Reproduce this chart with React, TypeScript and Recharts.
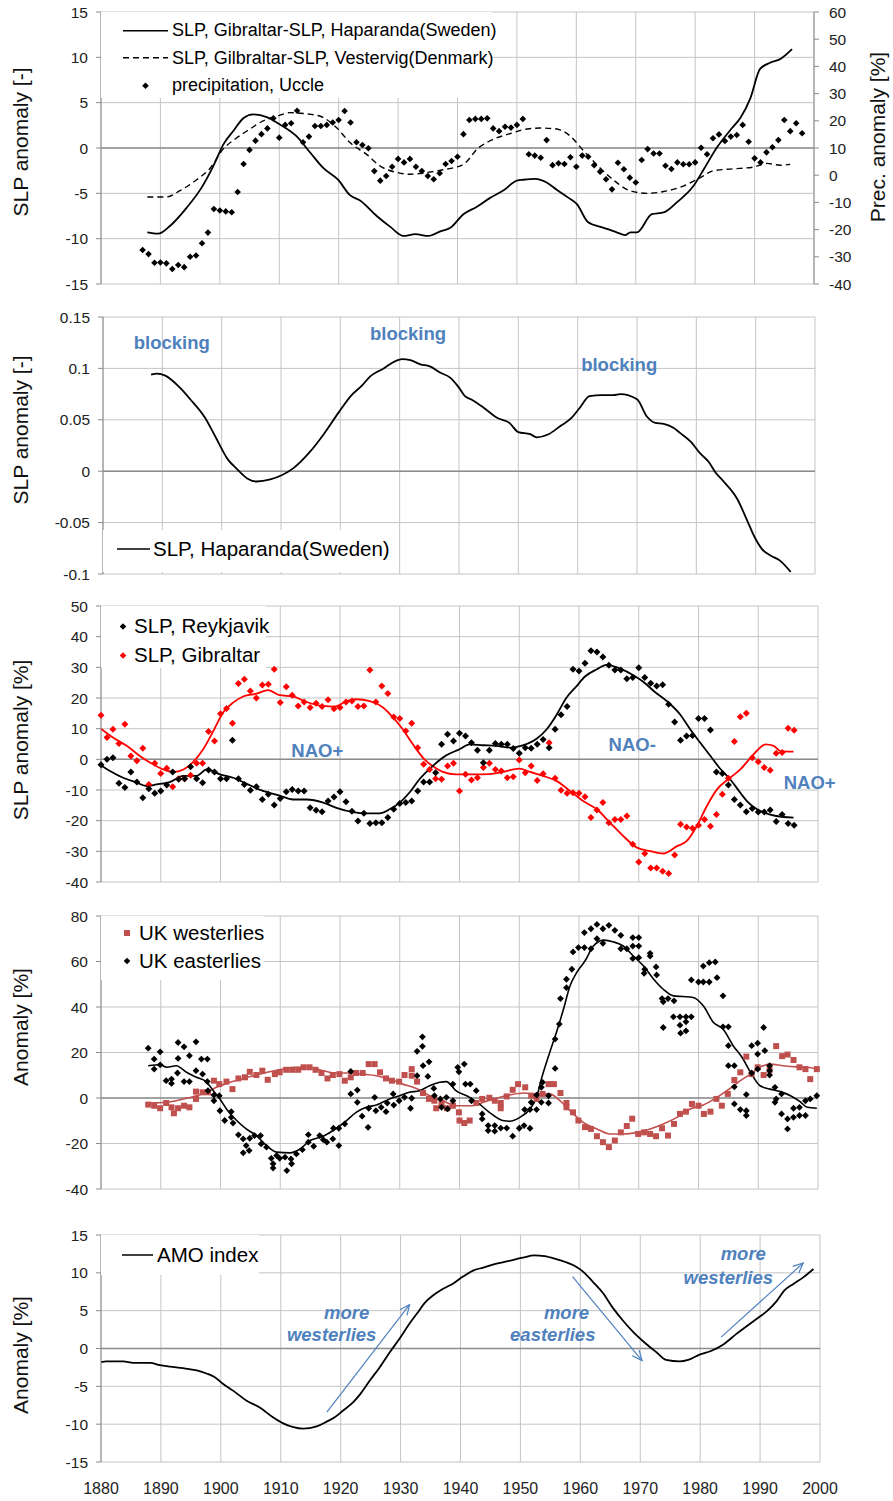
import React from 'react';
import {
  ComposedChart, Line, Scatter, XAxis, YAxis, CartesianGrid,
  ReferenceLine, ReferenceDot, Legend,
} from 'recharts';

type Pt = [number, number];

const yearTicks = [1880, 1890, 1900, 1910, 1920, 1930, 1940, 1950, 1960, 1970, 1980, 1990, 2000];

// ---- panel 1: SLP differences + Uccle precipitation
const p1LeftTicks = [-15, -10, -5, 0, 5, 10, 15];
const p1RightTicks = [-40, -30, -20, -10, 0, 10, 20, 30, 40, 50, 60];
const slpGibHaparanda: Pt[] = [
  [1887.8, -9.3], [1889.6, -9.45], [1891.6, -8.6], [1894.4, -6.6], [1896.9, -4.4], [1898.9, -2.0],
  [1900.6, 0.4], [1902.3, 1.9], [1904, 3.3], [1905.6, 3.7], [1907.9, 3.4], [1910.1, 2.6], [1912.9, 1.3],
  [1915.2, -0.5], [1917.4, -2.2], [1919.9, -3.5], [1921.9, -5.2], [1923.6, -5.8], [1926.4, -7.5],
  [1928.7, -8.7], [1930.9, -9.7], [1932.9, -9.5], [1935.1, -9.7], [1937.1, -9.2], [1938.8, -8.8],
  [1941, -7.3], [1943.2, -6.5], [1945.5, -5.5], [1947.7, -4.7], [1950, -3.6], [1951.1, -3.5],
  [1953.1, -3.4], [1955, -3.8], [1956.7, -4.6], [1958.7, -5.5], [1960.1, -6.2], [1962, -8.2],
  [1964.6, -8.8], [1966.8, -9.3], [1968.2, -9.6], [1969.1, -9.3], [1970.2, -9.3], [1972.7, -7.3],
  [1974.7, -7.1], [1976.9, -6.0], [1979.7, -4.2], [1981.4, -2.4], [1983.6, 0.0], [1986.2, 2.2],
  [1987.6, 3.3], [1989.3, 5.5], [1990.9, 8.7], [1992.6, 9.4], [1994.3, 9.8], [1996.3, 10.9],
];
const slpGibVestervig: Pt[] = [
  [1887.8, -5.4], [1891, -5.4], [1893.3, -4.7], [1896.1, -3.5], [1898.4, -2.2], [1900.6, -0.1],
  [1902.8, 1.1], [1905.1, 2.1], [1907.3, 3.0], [1909.6, 3.5], [1911.8, 3.9], [1914.1, 3.8],
  [1916.9, 3.5], [1919.7, 2.2], [1921.9, 0.6], [1924.7, -0.7], [1927, -2.0], [1929.8, -2.7],
  [1932, -2.9], [1934.8, -2.7], [1937.6, -2.4], [1941, -1.8], [1943.5, 0], [1945.5, 0.8],
  [1948.9, 1.6], [1951.7, 2.1], [1953.9, 2.2], [1956.7, 2.1], [1959, 1.3], [1961.2, -0.3],
  [1964, -2.2], [1966.2, -3.5], [1969, -4.7], [1971.9, -5.0], [1974.7, -4.8], [1978, -4.2],
  [1980.8, -3.3], [1983.1, -2.5], [1986.4, -2.3], [1989.8, -2.1], [1992.1, -1.7], [1994.3, -1.9],
  [1996, -1.8],
];
const precStart = 1887;
const precUccle = [
  -27.5, -29, -32.2, -32.1, -32.4, -34.5, -33, -33.8, -30, -29.5,
  -25, -21.1, -12.4, -13, -13.3, -13.6, -6.2, 4.1, 9.3, 12.7,
  15.1, 17.2, 20.9, 13.8, 18.5, 19.1, 23.7, 12.1, 14.2, 18.1,
  18.1, 18.5, 19.4, 20.3, 23.6, 19.4, 12.1, 11.1, 9.9, 1.5,
  -2, -0.3, 3.1, 6, 4.7, 6, 3.1, 1.5, -0.3, -1.5,
  0.7, 4.1, 5.2, 6.8, 15.1, 20.3, 20.7, 20.7, 20.9, 17.2,
  16.2, 17.8, 17.5, 18.5, 20.7, 7.7, 7.2, 6.4, 12.9, 3.7,
  4.4, 4.1, 6.6, 3.1, 7.2, 6.8, 3.7, 1.3, -1.5, -5.2,
  4.6, 2.2, -0.9, -2.7, 5.6, 9.6, 8, 8, 3.5, 2.3,
  4.7, 4, 4, 4.7, 10.1, 7.7, 13.6, 15, 12.6, 14.2,
  14.8, 18.5, 12.3, 6.2, 4.7, 8.4, 10.3, 12.9, 20.3, 16.2,
  19.1, 15.4,
];

// ---- panel 2: Haparanda SLP
const p2Ticks = [-0.1, -0.05, 0, 0.05, 0.1, 0.15];
const slpHaparanda: Pt[] = [
  [1888.1, 0.094], [1889.1, 0.095], [1890.5, 0.093], [1893, 0.081], [1894.7, 0.07], [1897.2, 0.052],
  [1898.9, 0.034], [1901.1, 0.011], [1902.6, 0.002], [1904.3, -0.007], [1905.9, -0.01], [1908.2, -0.008],
  [1910.1, -0.004], [1912.1, 0.003], [1914.9, 0.019], [1917.2, 0.036], [1919.7, 0.057], [1921.9, 0.074],
  [1923.6, 0.083], [1925, 0.092], [1927.3, 0.1], [1928.9, 0.106], [1930.4, 0.109], [1931.8, 0.108],
  [1933.5, 0.104], [1935.1, 0.102], [1936.8, 0.096], [1938.5, 0.091], [1939.9, 0.082], [1941, 0.073],
  [1942, 0.07], [1944.1, 0.062], [1946.4, 0.052], [1948.5, 0.047], [1950, 0.038], [1952, 0.036],
  [1953.1, 0.033], [1955.1, 0.036], [1957.1, 0.044], [1959, 0.052], [1960.4, 0.062], [1962, 0.073],
  [1964.1, 0.074], [1966, 0.074], [1967.2, 0.075], [1970, 0.07], [1971.7, 0.053], [1973.1, 0.047],
  [1974.5, 0.046], [1976.2, 0.042], [1977.3, 0.037], [1979, 0.029], [1980.7, 0.017], [1982.1, 0.009],
  [1983.2, -0.001], [1984.6, -0.01], [1986.9, -0.027], [1988.5, -0.047], [1989.9, -0.065],
  [1991.1, -0.076], [1992.5, -0.082], [1994.1, -0.087], [1995.9, -0.098],
];

// ---- panel 3: Reykjavik / Gibraltar SLP
const p3Ticks = [-40, -30, -20, -10, 0, 10, 20, 30, 40, 50];
const slpStart = 1880;
const reykjavikDots = [
  -1.8, 0.0, 0.5, -7.8, -9.2, -4.1, -7.4, -12.5, -9.6, -11.1,
  -10.3, -8.4, -4.1, -6.5, -6.3, -2.4, -6.3, -7.6, -3.5, -4.1,
  -6.3, -6.3, 6.2, -6.3, -8.2, -10.1, -8.9, -13.1, -11.4, -14.9,
  -12.8, -10.6, -9.8, -10.3, -10.3, -15.8, -16.6, -17.1, -13.6, -12.3,
  -10.6, -13.8, -16.9, -20.1, -17.6, -20.9, -20.7, -20.7, -19.0, -16.3,
  -14.4, -14.1, -13.6, -10.3, -7.4, -7.4, -4.4, 4.9, 8.2, 6.0,
  8.5, 7.6, 5.4, 3.0, -1.1, 3.0, 5.2, 4.9, 4.9, 3.5,
  2.0, 3.8, 3.6, 4.9, 6.5, 3.8, 9.8, 14.5, 17.2, 29.4,
  28.8, 31.3, 35.4, 35.0, 33.4, 30.7, 29.1, 29.1, 26.3, 26.7,
  29.9, 26.7, 24.8, 23.9, 24.3, 18.0, 12.2, 6.2, 7.6, 7.8,
  13.3, 13.3, 9.6, -4.1, -4.6, -8.4, -13.1, -14.9, -17.1, -16.0,
  -17.2, -17.2, -16.5, -20.3, -18.0, -20.9, -21.5,
];
const gibraltarDots = [
  14.4, 7.1, 9.8, 5.2, 11.4, 1.1, -0.5, 3.6, -8.2, -1.3,
  -4.6, -2.9, -8.9, -6.3, -6.3, -5.2, -1.3, -1.3, 9.1, 6.0,
  14.9, 16.6, 11.8, 24.7, 26.1, 22.3, 20.0, 24.2, 24.5, 29.4,
  18.5, 23.7, 20.9, 17.4, 18.7, 16.9, 18.3, 17.2, 19.4, 16.5,
  16.9, 18.7, 19.0, 17.2, 17.4, 29.1, 18.7, 23.9, 21.5, 13.8,
  13.3, 9.2, 11.8, 3.8, -1.6, -3.3, -6.3, -6.5, -2.2, -1.3,
  -10.3, -4.9, -6.7, -6.0, -2.7, -1.3, -3.3, -3.8, -6.0, -5.7,
  -0.2, -4.4, -2.2, -6.9, -4.7, 5.4, -6.2, -10.1, -11.1, -10.9,
  -11.1, -12.2, -19.0, -16.5, -14.1, -20.7, -19.6, -19.6, -18.5, -27.7,
  -33.5, -30.7, -35.4, -35.4, -36.5, -37.2, -31.2, -21.2, -22.1, -22.5,
  -21.5, -19.6, -21.8, -18.0, -11.4, -6.2, 5.8, 13.9, 15.0, 0.5,
  -0.8, -2.7, -3.6, 2.0, 2.2, 10.1, 9.5,
];
const reykjavikSmooth: Pt[] = [
  [1880, -2.0], [1881.5, -3.8], [1883.7, -6.0], [1886, -7.6], [1887.6, -8.7], [1889.3, -8.2],
  [1891.5, -7.4], [1893.8, -5.4], [1896, -5.4], [1897.7, -3.3], [1899.9, -4.9], [1902.1, -6.0],
  [1904.3, -7.9], [1907.1, -10.3], [1909.9, -11.8], [1912.1, -13.1], [1914.4, -13.1], [1917.2, -14.1],
  [1919.4, -15.8], [1922.2, -17.2], [1924.4, -17.6], [1926.6, -17.6], [1928.3, -16.3], [1930, -14.1],
  [1931.6, -10.9], [1933.3, -6.5], [1935.5, -2.2], [1937.8, 1.3], [1940, 3.3], [1941.7, 4.9],
  [1943.9, 4.6], [1946.1, 4.4], [1948.4, 3.8], [1949.6, 4.1], [1952.9, 6.7], [1954.6, 9.8],
  [1956.3, 14.7], [1957.9, 20.1], [1959.6, 23.9], [1961, 27.0], [1963, 29.4], [1964.6, 30.8],
  [1966.9, 29.6], [1969.1, 27.4], [1970.8, 25.2], [1972.5, 22.3], [1974.7, 19.0], [1976.9, 14.7],
  [1978.6, 9.8], [1980.3, 5.4], [1982, 1.1], [1983.6, -3.0], [1985.3, -6.5], [1987, -10.9],
  [1988.1, -13.6], [1989.8, -16.3], [1992, -18.0], [1994.2, -18.8], [1995.9, -19.0],
];
const gibraltarSmooth: Pt[] = [
  [1880, 10.0], [1882, 7.1], [1884.3, 4.4], [1886.5, 1.1], [1888.7, -1.6], [1890.4, -3.3],
  [1892.1, -4.1], [1893.8, -3.3], [1895.4, -0.9], [1897.1, 3.3], [1898.8, 9.2], [1900.4, 15.2],
  [1902.1, 18.5], [1903.8, 20.5], [1906, 21.4], [1908, 22.6], [1909.9, 20.9], [1912.1, 20.5],
  [1914.4, 18.7], [1917.2, 17.4], [1919.1, 17.2], [1921.1, 19.0], [1922.7, 19.6], [1925, 19.0],
  [1927.2, 16.9], [1928.9, 13.6], [1930.5, 9.8], [1932.2, 4.9], [1933.9, 0.5], [1935.5, -2.2],
  [1937.2, -4.1], [1939.4, -4.9], [1942.2, -4.9], [1945, -4.8], [1947.3, -4.1], [1950, -3.0],
  [1951.8, -4.1], [1954, -5.4], [1956.3, -7.1], [1958.5, -10.3], [1960.7, -13.6], [1963, -16.3],
  [1965.2, -20.7], [1967.4, -25.0], [1969.7, -28.8], [1971.9, -29.9], [1974.1, -30.7], [1976.4, -28.3],
  [1978, -26.7], [1979.7, -21.8], [1981.4, -15.2], [1983.1, -9.8], [1985.3, -6.0], [1987, -3.3],
  [1988.7, 0.5], [1990.3, 3.8], [1991.2, 4.9], [1992.6, 4.4], [1993.7, 2.7], [1995.9, 2.5],
];

// ---- panel 4: UK westerlies / easterlies
const p4Ticks = [-40, -20, 0, 20, 40, 60, 80];
const westerliesDots: Pt[] = [
  [1887.9, -2.9], [1888.9, -3.4], [1889.9, -4.5], [1890.9, -2.2], [1891.8, -4.1], [1892.2, -6.7],
  [1892.9, -4.5], [1893.9, -3.4], [1894.8, -4.1], [1895.9, -0.4], [1895.9, 2.8], [1897, 2.5],
  [1897.9, 2.5], [1898.9, 7.6], [1899.8, 6.1], [1901, 7.2], [1902, 3.9], [1903, 8.6], [1904.1, 9.1],
  [1904.9, 11.5], [1906, 10.1], [1907, 12.0], [1907.9, 8.0], [1909.1, 10.5], [1909.9, 11.3],
  [1911, 12.4], [1912, 12.4], [1913, 12.4], [1913.9, 13.5], [1914.9, 13.5], [1915.9, 12.4],
  [1916.9, 11.0], [1917.9, 8.6], [1918.8, 10.1], [1919.9, 10.5], [1920.8, 7.6], [1921.8, 9.1],
  [1922.7, 11.0], [1923.8, 11.0], [1924.8, 14.9], [1925.8, 14.9], [1926.7, 11.3], [1927.7, 8.6],
  [1928.7, 7.6], [1929.9, 7.2], [1930.8, 10.1], [1932, 9.8], [1932, 12.7], [1932.9, 7.2],
  [1933.9, 2.2], [1934.9, -0.4], [1935.8, -1.2], [1936.1, -4.5], [1937, -2.2], [1937.9, -4.5],
  [1938.9, -3.4], [1939.9, -6.3], [1940, -9.9], [1940.8, -11.0], [1941.7, -9.9], [1942.8, -2.2],
  [1943.8, -0.4], [1945, 0.1], [1945.9, -1.2], [1946.9, -4.5], [1946.9, -2.2], [1947.9, 0.7],
  [1948.9, 3.6], [1949.8, 6.1], [1951, 4.7], [1952, 1.0], [1952.9, -0.4], [1953.9, 1.8],
  [1954.9, 6.1], [1955.8, 6.1], [1956.9, 2.2], [1957.9, -2.2], [1957.9, -4.1], [1959, -6.3],
  [1959.9, -9.9], [1961, -12.8], [1962, -13.6], [1963, -16.8], [1964, -19.4], [1965, -21.6],
  [1966, -18.7], [1967, -15.1], [1968, -12.3], [1968.9, -9.1], [1969.9, -15.8], [1970.9, -15.1],
  [1971.9, -15.8], [1972.9, -16.8], [1973.9, -13.3], [1974.9, -16.5], [1975.9, -11.4], [1976.9, -7.0],
  [1977.9, -6.0], [1978.9, -2.6], [1980, -3.4], [1980.9, -7.0], [1982, -6.0], [1983, -0.4],
  [1983.9, -3.4], [1984.9, 1.8], [1986, 7.9], [1987, 11.3], [1988, 18.2], [1988.9, 10.5],
  [1989.9, 13.5], [1990.9, 10.1], [1991.9, 12.4], [1993, 22.8], [1994, 18.4], [1994.9, 19.1],
  [1995.9, 16.7], [1996.9, 13.5], [1997.9, 12.7], [1998.7, 8.3], [1999.8, 12.7],
];
const easterliesDots: Pt[] = [
  [1887.9, 21.9], [1888.9, 17.1], [1888.9, 12.7], [1889.9, 20.3], [1889.9, 14.6], [1890.9, 7.6],
  [1891.8, 8.3], [1891.8, 6.4], [1892.9, 24.4], [1892.9, 17.4], [1892.8, 11.0], [1893.9, 22.5],
  [1893.9, 7.2], [1894.8, 18.6], [1894.8, 7.2], [1895.9, 24.7], [1895.9, 12.0], [1897, 10.5],
  [1896.8, 17.1], [1897.8, 17.1], [1897.8, 7.2], [1897.9, 3.2], [1898.9, 1.3], [1899.8, 1.0],
  [1898.9, -1.2], [1899.9, -5.6], [1900.7, -9.9], [1901.8, -6.0], [1901.8, -8.5], [1902.1, -11.0],
  [1903, -16.2], [1903.8, -18.0], [1903.8, -24.1], [1904.3, -20.9], [1904.9, -17.7], [1904.8, -23.1],
  [1905.7, -16.5], [1906.7, -16.5], [1906.8, -20.2], [1907.7, -21.6], [1908.5, -26.5], [1908.8, -28.9],
  [1908.8, -30.8], [1909.4, -25.3], [1909.9, -26.5], [1910.8, -26.0], [1911.1, -31.9], [1911.8, -26.8],
  [1911.9, -28.9], [1912.7, -24.6], [1913.7, -22.7], [1914.7, -19.4], [1914.7, -16.1], [1915.6, -21.2],
  [1916.6, -16.5], [1917.2, -18.3], [1917.8, -19.4], [1918.8, -18.0], [1919.8, -20.9], [1918.9, -13.3],
  [1919.8, -13.3], [1920.8, -11.4], [1921.8, 11.7], [1921.8, 1.8], [1922.9, 3.5], [1922.9, -1.9],
  [1923.7, -8.0], [1924.7, -12.9], [1924.8, -4.5], [1925.8, 0.3], [1926, -5.6], [1926.9, -4.1],
  [1927.7, -6.0], [1927.9, -2.2], [1928.9, 1.8], [1929, -3.1], [1929.9, -1.2], [1930.8, 0.3],
  [1931.8, -4.5], [1932, -0.1], [1932.9, 20.5], [1932.9, 9.8], [1933.8, 26.9], [1933.8, 22.7],
  [1933.9, 14.2], [1934.9, 15.9], [1934.7, 9.5], [1935.7, 4.2], [1935.8, 1.0], [1936.8, -0.4],
  [1937, -4.1], [1937.8, 0.3], [1938, -4.8], [1938.9, 6.1], [1938.9, -1.2], [1939.7, 13.5],
  [1939.9, 11.5], [1940.8, 14.9], [1941, 6.1], [1941.8, 6.1], [1942, -1.2], [1942.8, 3.2],
  [1943.8, -7.0], [1943.8, -9.2], [1944.8, -12.1], [1944.8, -14.3], [1945.9, -12.1], [1945.9, -14.6],
  [1946.9, -13.2], [1947.9, -13.2], [1948.9, -16.8], [1950, -13.3], [1950.8, -12.1], [1951.8, -13.3],
  [1950.9, -5.1], [1951.8, -5.1], [1952.9, -5.1], [1952, -1.9], [1952.9, 1.3], [1953.7, 4.7],
  [1953.9, 6.9], [1953.7, -1.9], [1954.9, 1.0], [1954.9, -2.2], [1956, 13.0], [1956, 25.9],
  [1956.7, 32.5], [1956.9, 43.7], [1957.9, 48.5], [1957.9, 52.2], [1958.8, 56.6], [1959, 64.2],
  [1959.9, 66.1], [1960.9, 66.1], [1960.9, 72.7], [1962, 65.6], [1962, 74.4], [1963, 76.3],
  [1964, 74.4], [1965, 75.9], [1966, 73.7], [1967, 71.5], [1963, 70.0], [1964, 68.0],
  [1967, 65.6], [1968, 65.6], [1969, 70.5], [1970, 70.5], [1969, 66.8], [1970, 66.8],
  [1969, 61.3], [1970, 61.7], [1971, 56.6], [1971.9, 62.4], [1971.9, 63.6], [1970.9, 54.8],
  [1972.9, 57.6], [1973, 54.1], [1973.9, 43.7], [1974.1, 42.3], [1974.9, 43.7], [1975.9, 42.7],
  [1974.1, 31.0], [1975.8, 35.7], [1976.9, 35.7], [1977.9, 35.7], [1978.8, 35.7], [1976.9, 32.0],
  [1977.9, 33.5], [1977, 28.5], [1977.9, 29.5], [1978.8, 51.9], [1980, 51.0], [1980.8, 51.0],
  [1981.8, 51.0], [1980.8, 58.0], [1981.8, 59.5], [1982.8, 59.8], [1983.1, 52.9], [1984.1, 44.9],
  [1984.1, 31.3], [1985, 31.3], [1985, 23.0], [1985, 14.2], [1986, 14.2], [1986, 4.9],
  [1986, -2.6], [1987, -5.1], [1988, -5.6], [1988, -7.7], [1988, 1.5], [1988.9, 23.0],
  [1989.9, 24.1], [1988.9, 11.0], [1989.9, 19.3], [1989.9, 12.7], [1990.9, 31.0], [1991.1, 20.8],
  [1991.9, 14.2], [1991.9, 12.0], [1991.9, 10.1], [1992.8, 4.7], [1992.8, -1.9], [1993, -0.4],
  [1993.9, 1.8], [1993.9, -7.0], [1994.9, -9.2], [1994.9, -13.6], [1995.9, -4.5], [1995.9, -8.5],
  [1996.9, -4.1], [1996.9, -7.7], [1997.9, -1.2], [1997.9, -7.7], [1998.7, -0.4], [1999.8, 1.0],
];
const westerliesSmooth: Pt[] = [
  [1887.9, -2.2], [1891, -1.9], [1893.8, -0.4], [1896, 1.0], [1897.7, 2.5], [1899.3, 4.7],
  [1901.6, 6.9], [1903.8, 8.6], [1906, 10.1], [1908.2, 11.5], [1910.5, 12.7], [1912.7, 13.5],
  [1914.9, 13.5], [1917.2, 12.0], [1919.4, 11.0], [1921.6, 11.0], [1923.8, 10.5], [1926.1, 9.8],
  [1928.3, 8.3], [1930.5, 6.1], [1932.8, 4.2], [1935, 1.0], [1937.2, -1.2], [1939.4, -3.4],
  [1942.2, -3.4], [1944, -1.9], [1946.2, -0.1], [1948.4, 1.3], [1950.7, 2.2], [1952.9, 1.8],
  [1955.1, 1.8], [1956.8, -1.2], [1958.5, -5.6], [1960.7, -10.7], [1963, -13.6], [1965.2, -15.8],
  [1967.4, -15.8], [1969.7, -15.1], [1971.9, -13.6], [1974.1, -11.4], [1976.4, -8.5], [1978.6, -4.8],
  [1980.8, -3.1], [1983.1, 0.3], [1985.3, 4.2], [1987, 7.6], [1988.7, 10.5], [1990.3, 13.5],
  [1992, 14.9], [1994.2, 14.2], [1996.5, 13.7], [1998.2, 13.5], [1999.8, 12.7],
];
const easterliesSmooth: Pt[] = [
  [1887.9, 14.2], [1889.9, 14.6], [1891, 13.5], [1892.6, 14.2], [1894.3, 11.3], [1896, 9.1],
  [1897.7, 6.9], [1898.8, 3.2], [1899.9, -0.4], [1901, -4.8], [1902.7, -9.9], [1904.3, -13.6],
  [1906, -16.5], [1907.7, -20.9], [1909.4, -23.8], [1911.6, -24.1], [1913.3, -22.4], [1915, -18.7],
  [1917.2, -16.8], [1919.4, -13.3], [1921.1, -9.9], [1922.7, -6.3], [1924.4, -4.1], [1926.1, -3.1],
  [1928.3, -0.4], [1930, 1.0], [1931.6, 2.5], [1933.3, 3.2], [1935, 5.4], [1936.7, 6.9],
  [1937.8, 7.2], [1939.4, 3.2], [1941.7, 0.3], [1943.3, -2.6], [1945, -6.3], [1947.2, -9.9],
  [1948.4, -10.2], [1950.1, -8.5], [1951.8, -4.8], [1952.9, 0.3], [1953.7, 8.3], [1955.1, 20.0],
  [1956.3, 29.5], [1957.4, 39.0], [1958.5, 49.3], [1959.6, 55.1], [1961, 60.2], [1962.4, 66.8],
  [1964.1, 69.4], [1965.8, 68.6], [1967.4, 66.8], [1969.1, 62.4], [1970.8, 58.0], [1972.5, 52.2],
  [1974.1, 47.8], [1975.8, 44.9], [1977.4, 44.6], [1979.1, 44.2], [1980.8, 40.5], [1982.5, 33.2],
  [1984.1, 30.3], [1985.8, 23.0], [1987.3, 17.8], [1988.7, 11.3], [1990.3, 5.4], [1992, 3.9],
  [1993.7, 2.8], [1995.4, 1.0], [1997, -1.6], [1998.2, -4.1], [1999.8, -4.5],
];

// ---- panel 5: AMO index
const p5Ticks = [-15, -10, -5, 0, 5, 10, 15];
const amoIndex: Pt[] = [
  [1880, -1.8], [1880.9, -1.7], [1883.7, -1.7], [1885.4, -1.9], [1888.2, -1.9], [1889.8, -2.2],
  [1891.5, -2.4], [1893.7, -2.6], [1896, -2.9], [1897.6, -3.3], [1899, -3.8], [1900.4, -4.7],
  [1902.1, -5.6], [1904.3, -6.9], [1906.5, -7.8], [1908.7, -9.1], [1910.4, -9.9], [1912.1, -10.4],
  [1913.7, -10.6], [1916, -10.3], [1917.6, -9.7], [1919, -9.1], [1920.4, -8.2], [1922.1, -7.1],
  [1923.2, -6.1], [1924.9, -4.2], [1926.5, -2.5], [1928.2, -0.5], [1929.9, 1.4], [1931.5, 3.3],
  [1932.9, 4.8], [1934, 6.0], [1935.4, 7.0], [1937.1, 7.9], [1938.8, 8.6], [1940.4, 9.5],
  [1942.1, 10.3], [1943.8, 10.7], [1945.4, 11.1], [1947.7, 11.5], [1950.4, 12.0], [1952.3, 12.3],
  [1954, 12.2], [1956, 11.8], [1957.6, 11.4], [1959.3, 10.8], [1960.4, 10.2], [1962.1, 8.8],
  [1963.8, 7.3], [1965.4, 5.4], [1967.1, 3.7], [1968.8, 2.2], [1971, 0.6], [1972.7, -0.5],
  [1974.3, -1.5], [1976.6, -1.7], [1978, -1.5], [1979.9, -0.8], [1981.9, -0.3], [1983.8, 0.5],
  [1986, 1.9], [1987.7, 2.9], [1989.4, 3.9], [1991.1, 4.9], [1992.8, 6.3], [1994.1, 7.7],
  [1995.5, 8.5], [1997.2, 9.4], [1998.9, 10.5],
];

const FONT = '"Liberation Sans", Arial, Helvetica, sans-serif';
const GRID = '#c4c4c4';
const AXIS = '#8c8c8c';
const BLUE = '#4f81bd';
const RED = '#ff0000';
const BRICK = '#c0504d';
const TICK = { fill: '#222', fontSize: 15.5 };
const LW = 1.8;

const pts = (a: Pt[]) => a.map(([x, y]) => ({ x, y }));
const annual = (start: number, vals: number[]) => vals.map((y, i) => ({ x: start + i, y }));

const diamond = (color: string, r: number) => (p: any) => (
  <polygon
    points={`${p.cx},${p.cy - r} ${p.cx + r},${p.cy} ${p.cx},${p.cy + r} ${p.cx - r},${p.cy}`}
    fill={color}
  />
);
const square = (color: string, s: number) => (p: any) => (
  <rect x={p.cx - s / 2} y={p.cy - s / 2} width={s} height={s} fill={color} />
);

const arrowShape = (p: any) => {
  const { x1, y1, x2, y2 } = p;
  const a = Math.atan2(y2 - y1, x2 - x1);
  const L = 11;
  const s = 0.42;
  const h1 = `${x2 - L * Math.cos(a - s)},${y2 - L * Math.sin(a - s)}`;
  const h2 = `${x2 - L * Math.cos(a + s)},${y2 - L * Math.sin(a + s)}`;
  return (
    <g>
      <line x1={x1} y1={y1} x2={x2} y2={y2} stroke={BLUE} strokeWidth={1.2} />
      <polyline points={`${h1} ${x2},${y2} ${h2}`} fill="none" stroke={BLUE} strokeWidth={1.2} />
    </g>
  );
};

type LegendItem = { label: string; kind: 'line' | 'dash' | 'diamond' | 'square'; color: string };
type LegendLayout = {
  left: number; top: number; width: number; height: number; rowH: number; padTop: number;
  iconW: number; from: number; to: number; fontSize: number;
};

const legendIcon = (it: LegendItem, lay: LegendLayout) => {
  const cy = lay.rowH / 2;
  const cx = (lay.from + lay.to) / 2;
  if (it.kind === 'line' || it.kind === 'dash')
    return (
      <line x1={lay.from} x2={lay.to} y1={cy} y2={cy} stroke={it.color} strokeWidth={1.5}
        strokeDasharray={it.kind === 'dash' ? '6 4' : undefined} />
    );
  if (it.kind === 'diamond') return diamond(it.color, 3.3)({ cx, cy });
  return square(it.color, 6)({ cx, cy });
};

const legendBox = (items: LegendItem[], lay: LegendLayout) => () => (
  <div style={{ width: lay.width, height: lay.height, background: '#fff', paddingTop: lay.padTop, boxSizing: 'border-box', fontFamily: FONT }}>
    {items.map((it) => (
      <div key={it.label} style={{ display: 'flex', alignItems: 'center', height: lay.rowH }}>
        <svg width={lay.iconW} height={lay.rowH} style={{ flex: 'none' }}>{legendIcon(it, lay)}</svg>
        <span style={{ fontSize: lay.fontSize, color: '#000', whiteSpace: 'nowrap', lineHeight: 1 }}>{it.label}</span>
      </div>
    ))}
  </div>
);

function makeLegend(items: LegendItem[], lay: LegendLayout) {
  return (
    <Legend
      layout="horizontal"
      align="center"
      verticalAlign="middle"
      content={legendBox(items, lay)}
      wrapperStyle={{ left: lay.left, top: lay.top, width: lay.width, height: lay.height }}
    />
  );
}

const note = (x: number, y: number, text: string, italic = false) => (
  <ReferenceDot
    key={`${text}-${x}-${y}`}
    x={x}
    y={y}
    r={0}
    fill="none"
    stroke="none"
    label={{ value: text, position: 'center', fill: BLUE, fontSize: 18.5, fontWeight: 'bold', fontStyle: italic ? 'italic' : 'normal' }}
  />
);

const VTitle = ({ text, cx, cy }: { text: string; cx: number; cy: number }) => (
  <div style={{
    position: 'absolute', left: cx, top: cy, transform: 'translate(-50%,-50%) rotate(-90deg)',
    whiteSpace: 'nowrap', fontSize: 21, color: '#111', lineHeight: 1,
  }}>{text}</div>
);

const yAxisCommon = {
  stroke: AXIS, tick: TICK, tickSize: 5, tickMargin: 8, width: 60, interval: 0 as const, dataKey: 'y',
};

const Panel1 = () => (
  <ComposedChart width={893} height={300} margin={{ top: 12, right: 19, bottom: 16, left: 41 }}>
    <CartesianGrid stroke={GRID} yAxisId="l" />
    <XAxis type="number" dataKey="x" domain={[1880, 2000]} ticks={yearTicks} hide />
    <YAxis yAxisId="l" domain={[-15, 15]} ticks={p1LeftTicks} {...yAxisCommon} />
    <YAxis yAxisId="r" orientation="right" domain={[-40, 60]} ticks={p1RightTicks} {...yAxisCommon} tickMargin={10} />
    <ReferenceLine yAxisId="l" y={0} stroke={AXIS} strokeWidth={1.5} />
    <Line yAxisId="l" data={pts(slpGibHaparanda)} dataKey="y" type="monotone" stroke="#000" strokeWidth={LW}
      dot={false} activeDot={false} isAnimationActive={false} />
    <Line yAxisId="l" data={pts(slpGibVestervig)} dataKey="y" type="monotone" stroke="#000" strokeWidth={1.4}
      strokeDasharray="6 4" dot={false} activeDot={false} isAnimationActive={false} />
    <Scatter yAxisId="r" data={annual(precStart, precUccle)} dataKey="y" shape={diamond('#000', 3.3)} isAnimationActive={false} />
    {makeLegend(
      [
        { label: 'SLP, Gibraltar-SLP, Haparanda(Sweden)', kind: 'line', color: '#000' },
        { label: 'SLP, Gilbraltar-SLP, Vestervig(Denmark)', kind: 'dash', color: '#000' },
        { label: 'precipitation, Uccle', kind: 'diamond', color: '#000' },
      ],
      { left: 101, top: 12, width: 391, height: 86, rowH: 27.5, padTop: 4.5, iconW: 71, from: 22, to: 67, fontSize: 18 },
    )}
  </ComposedChart>
);

const Panel2 = () => (
  <ComposedChart width={893} height={290} margin={{ top: 17, right: 78, bottom: 16, left: 43 }}>
    <CartesianGrid stroke={GRID} />
    <XAxis type="number" dataKey="x" domain={[1880, 2000]} ticks={yearTicks} hide />
    <YAxis domain={[-0.1, 0.15]} ticks={p2Ticks} {...yAxisCommon} />
    <ReferenceLine y={0} stroke={AXIS} strokeWidth={1.5} />
    <Line data={pts(slpHaparanda)} dataKey="y" type="monotone" stroke="#000" strokeWidth={LW}
      dot={false} activeDot={false} isAnimationActive={false} />
    {note(1891.6, 0.125, 'blocking')}
    {note(1931.4, 0.134, 'blocking')}
    {note(1967, 0.104, 'blocking')}
    {makeLegend(
      [{ label: 'SLP, Haparanda(Sweden)', kind: 'line', color: '#000' }],
      { left: 103, top: 230, width: 292, height: 42, rowH: 38, padTop: 0, iconW: 50, from: 14, to: 47, fontSize: 20.5 },
    )}
  </ComposedChart>
);

const Panel3 = () => (
  <ComposedChart width={893} height={310} margin={{ top: 16, right: 75, bottom: 18, left: 41 }}>
    <CartesianGrid stroke={GRID} />
    <XAxis type="number" dataKey="x" domain={[1880, 2000]} ticks={yearTicks} hide />
    <YAxis domain={[-40, 50]} ticks={p3Ticks} {...yAxisCommon} />
    <ReferenceLine y={0} stroke={AXIS} strokeWidth={1.5} />
    <Scatter data={annual(slpStart, gibraltarDots)} dataKey="y" shape={diamond(RED, 3.5)} isAnimationActive={false} />
    <Scatter data={annual(slpStart, reykjavikDots)} dataKey="y" shape={diamond('#000', 3.5)} isAnimationActive={false} />
    <Line data={pts(gibraltarSmooth)} dataKey="y" type="monotone" stroke={RED} strokeWidth={LW}
      dot={false} activeDot={false} isAnimationActive={false} />
    <Line data={pts(reykjavikSmooth)} dataKey="y" type="monotone" stroke="#000" strokeWidth={LW}
      dot={false} activeDot={false} isAnimationActive={false} />
    {note(1916.2, 2.9, 'NAO+')}
    {note(1968.9, 4.9, 'NAO-')}
    {note(1998.6, -7.6, 'NAO+')}
    {makeLegend(
      [
        { label: 'SLP, Reykjavik', kind: 'diamond', color: '#000' },
        { label: 'SLP, Gibraltar', kind: 'diamond', color: RED },
      ],
      { left: 101, top: 16, width: 165, height: 62, rowH: 29, padTop: 5.5, iconW: 33, from: 22, to: 22, fontSize: 20.5 },
    )}
  </ComposedChart>
);

const Panel4 = () => (
  <ComposedChart width={893} height={310} margin={{ top: 16, right: 75, bottom: 21, left: 41 }}>
    <CartesianGrid stroke={GRID} />
    <XAxis type="number" dataKey="x" domain={[1880, 2000]} ticks={yearTicks} hide />
    <YAxis domain={[-40, 80]} ticks={p4Ticks} {...yAxisCommon} />
    <ReferenceLine y={0} stroke={AXIS} strokeWidth={1.5} />
    <Scatter data={pts(westerliesDots)} dataKey="y" shape={square(BRICK, 6)} isAnimationActive={false} />
    <Scatter data={pts(easterliesDots)} dataKey="y" shape={diamond('#000', 3.4)} isAnimationActive={false} />
    <Line data={pts(westerliesSmooth)} dataKey="y" type="monotone" stroke={BRICK} strokeWidth={1.6}
      dot={false} activeDot={false} isAnimationActive={false} />
    <Line data={pts(easterliesSmooth)} dataKey="y" type="monotone" stroke="#000" strokeWidth={1.6}
      dot={false} activeDot={false} isAnimationActive={false} />
    {makeLegend(
      [
        { label: 'UK westerlies', kind: 'square', color: BRICK },
        { label: 'UK easterlies', kind: 'diamond', color: '#000' },
      ],
      { left: 101, top: 16, width: 163, height: 64, rowH: 28, padTop: 3, iconW: 38, from: 26, to: 26, fontSize: 20.5 },
    )}
  </ComposedChart>
);

const Panel5 = () => (
  <ComposedChart width={893} height={286} margin={{ top: 20, right: 73, bottom: 0, left: 41 }}>
    <CartesianGrid stroke={GRID} />
    <XAxis type="number" dataKey="x" domain={[1880, 2000]} ticks={yearTicks} interval={0}
      tick={{ fill: '#222', fontSize: 16 }} tickLine={false} axisLine={false} tickSize={0} tickMargin={21} height={39} />
    <YAxis domain={[-15, 15]} ticks={p5Ticks} {...yAxisCommon} />
    <ReferenceLine y={0} stroke={AXIS} strokeWidth={1.5} />
    <Line data={pts(amoIndex)} dataKey="y" type="monotone" stroke="#000" strokeWidth={LW}
      dot={false} activeDot={false} isAnimationActive={false} />
    <ReferenceLine segment={[{ x: 1917.7, y: -8.4 }, { x: 1931.5, y: 5.8 }]} shape={arrowShape} />
    <ReferenceLine segment={[{ x: 1958.7, y: 9.5 }, { x: 1970.3, y: -1.6 }]} shape={arrowShape} />
    <ReferenceLine segment={[{ x: 1983.5, y: 1.5 }, { x: 1997.2, y: 11.3 }]} shape={arrowShape} />
    {note(1921, 4.8, 'more', true)}
    {note(1918.5, 1.9, 'westerlies', true)}
    {note(1957.7, 4.8, 'more', true)}
    {note(1955.4, 1.9, 'easterlies', true)}
    {note(1987.2, 12.5, 'more', true)}
    {note(1984.7, 9.4, 'westerlies', true)}
    {makeLegend(
      [{ label: 'AMO index', kind: 'line', color: '#000' }],
      { left: 101, top: 20, width: 158, height: 40, rowH: 40, padTop: 0, iconW: 56, from: 21, to: 52, fontSize: 20.5 },
    )}
  </ComposedChart>
);

export default function App() {
  return (
    <div style={{ position: 'absolute', left: 0, top: 0, width: 893, height: 1501, background: '#fff', fontFamily: FONT, overflow: 'hidden' }}>
      <div style={{ position: 'absolute', left: 0, top: 0 }}><Panel1 /></div>
      <div style={{ position: 'absolute', left: 0, top: 300 }}><Panel2 /></div>
      <div style={{ position: 'absolute', left: 0, top: 590 }}><Panel3 /></div>
      <div style={{ position: 'absolute', left: 0, top: 900 }}><Panel4 /></div>
      <div style={{ position: 'absolute', left: 0, top: 1215 }}><Panel5 /></div>
      <VTitle text="SLP anomaly [-]" cx={20} cy={142} />
      <VTitle text="Prec. anomaly [%]" cx={877} cy={137} />
      <VTitle text="SLP anomaly [-]" cx={20} cy={430} />
      <VTitle text="SLP anomaly [%]" cx={20} cy={740} />
      <VTitle text="Anomaly [%]" cx={20} cy={1027} />
      <VTitle text="Anomaly [%]" cx={20} cy={1355} />
    </div>
  );
}
